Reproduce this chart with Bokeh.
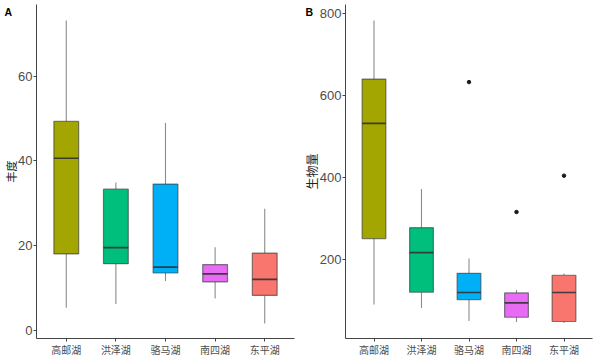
from bokeh.plotting import figure
from bokeh.models import ColumnDataSource, FactorRange, FixedTicker, Label, Range1d
from bokeh.transform import dodge
from bokeh.layouts import row
from bokeh.embed import file_html
from bokeh.resources import INLINE

lakes = ["高邮湖", "洪泽湖", "骆马湖", "南四湖", "东平湖"]
colors = ["#A3A500", "#00BF7D", "#00B0F6", "#E76BF3", "#F8766D"]

# Panel A: 丰度
a_lower = [5.3, 6.2, 11.6, 7.5, 1.6]
a_q1 = [18.0, 15.7, 13.5, 11.4, 8.2]
a_med = [40.6, 19.5, 14.9, 13.3, 12.0]
a_q3 = [49.3, 33.3, 34.5, 15.5, 18.2]
a_upper = [73.1, 34.9, 48.9, 19.6, 28.7]
a_ticks = [0, 20, 40, 60]

# Panel B: 生物量
b_lower = [89.6, 81.4, 49.6, 47.2, 44.7]
b_q1 = [250.8, 119.7, 101.8, 58.6, 48.1]
b_med = [532.4, 216.6, 118.9, 93.6, 118.9]
b_q3 = [640.6, 277.6, 166.0, 118.0, 161.2]
b_upper = [783.9, 372.0, 202.0, 125.3, 165.3]
b_out_lake = ["骆马湖", "南四湖", "东平湖"]
b_out_val = [633.3, 315.8, 404.6]
b_ticks = [200, 400, 600, 800]

MIX = "Liberation Sans, Noto Sans CJK SC"
LAT = "Liberation Sans"


def panel(lower, q1, med, q3, upper, ticks, yr, width, border_left, border_right,
          tag, tag_x, ylabel, ylabel_size, out_lake=None, out_val=None):
    p = figure(width=width, height=363, output_backend="svg", toolbar_location=None,
               x_range=FactorRange(factors=lakes, range_padding=0.1,
                                   range_padding_units="absolute"),
               y_range=yr,
               min_border_left=border_left, min_border_right=border_right,
               min_border_top=4, min_border_bottom=25)
    p.outline_line_color = None
    p.xgrid.visible = False
    p.ygrid.visible = False
    src = ColumnDataSource(dict(lake=lakes, lower=lower, q1=q1, med=med, q3=q3,
                                upper=upper, color=colors))
    p.segment(x0="lake", y0="q3", x1="lake", y1="upper", source=src,
              line_color="#8c8c8c", line_width=1.1)
    p.segment(x0="lake", y0="q1", x1="lake", y1="lower", source=src,
              line_color="#8c8c8c", line_width=1.1)
    p.vbar(x="lake", width=0.5, bottom="q1", top="q3", source=src,
           fill_color="color", line_color="#333333", line_alpha=0.6, line_width=1.2)
    p.segment(x0=dodge("lake", -0.25, range=p.x_range), y0="med",
              x1=dodge("lake", 0.25, range=p.x_range), y1="med", source=src,
              line_color="#333333", line_width=1.6, line_alpha=0.9)
    if out_lake:
        p.scatter(x=out_lake, y=out_val, size=3.5, color="#1a1a1a")

    for ax in (p.xaxis, p.yaxis):
        ax.axis_line_color = "#444444"
        ax.axis_line_width = 1
        ax.major_tick_line_color = "#444444"
        ax.major_tick_out = 3
        ax.major_tick_in = 0
        ax.minor_tick_line_color = None
    p.xaxis.major_label_text_font = MIX
    p.xaxis.major_label_text_font_size = "10px"
    p.xaxis.major_label_text_color = "#4D4D4D"
    p.xaxis.major_label_standoff = 3
    p.yaxis.ticker = FixedTicker(ticks=ticks)
    p.yaxis.major_label_text_font = LAT
    p.yaxis.major_label_text_font_size = "13px"
    p.yaxis.major_label_text_color = "#4D4D4D"
    p.yaxis.major_label_standoff = 1
    p.yaxis.axis_label = ylabel
    p.yaxis.axis_label_text_font = MIX
    p.yaxis.axis_label_text_font_size = ylabel_size
    p.yaxis.axis_label_text_font_style = "normal"
    p.yaxis.axis_label_text_color = "#222222"
    p.yaxis.axis_label_standoff = -3

    p.add_layout(Label(x=tag_x, y=5, x_units="canvas", y_units="canvas",
                       text=tag, text_font=LAT, text_font_style="bold",
                       text_font_size="10.5px", text_baseline="top",
                       text_color="#000000"), "right")
    return p


pa = panel(a_lower, a_q1, a_med, a_q3, a_upper, a_ticks, Range1d(-1.96, 76.9),
           302, 36, 7, "A", 4, "丰度", "11px")
pb = panel(b_lower, b_q1, b_med, b_q3, b_upper, b_ticks, Range1d(6.6, 823.0),
           298, 40, 8, "B", 3, "生物量", "12px", b_out_lake, b_out_val)

layout = row(pa, pb)
open("out.html", "w").write(file_html(layout, INLINE))
